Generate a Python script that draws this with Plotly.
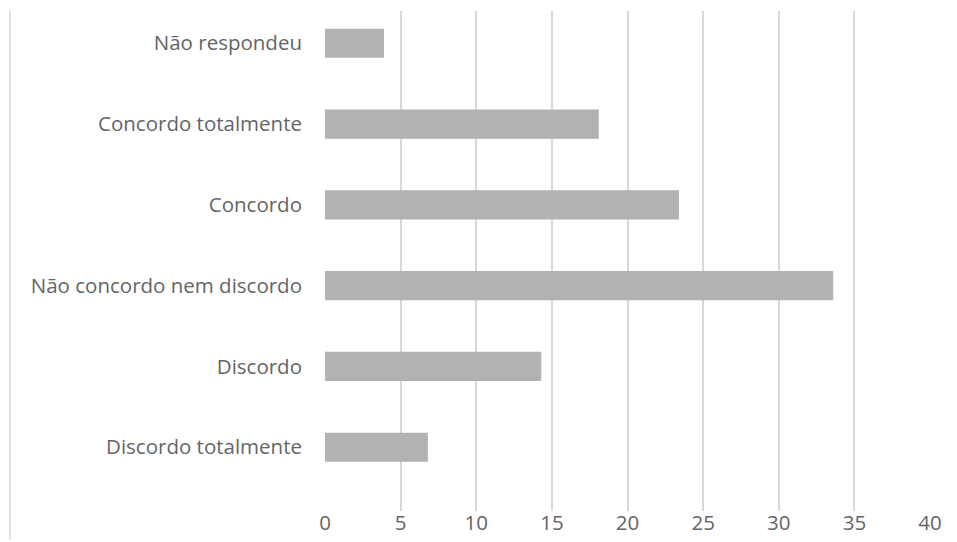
import plotly.graph_objects as go

categories = [
    "Discordo totalmente",
    "Discordo",
    "Não concordo nem discordo",
    "Concordo",
    "Concordo totalmente",
    "Não respondeu",
]
values = [6.8, 14.3, 33.6, 23.4, 18.1, 3.9]
x_ticks = [0, 5, 10, 15, 20, 25, 30, 35, 40]

label_font = dict(family="Open Sans, Calibri, sans-serif", size=20.5, color="#656565")

fig = go.Figure(
    go.Bar(
        x=values,
        y=categories,
        orientation="h",
        width=0.36,
        marker=dict(color="#b1b2b4", line=dict(width=0)),
        hoverinfo="x+y",
    )
)

fig.update_layout(
    width=957,
    height=542,
    margin=dict(l=324.5, r=26.5, t=11, b=31),
    paper_bgcolor="white",
    plot_bgcolor="white",
    showlegend=False,
    xaxis=dict(
        range=[0, 40],
        tickvals=x_ticks,
        ticktext=[str(v) for v in x_ticks],
        showgrid=True,
        gridcolor="#d9d9d9",
        gridwidth=1.5,
        zeroline=False,
        showline=False,
        ticks="",
        tickfont=label_font,
        ticklabelstandoff=-3,
        automargin=False,
    ),
    yaxis=dict(
        type="category",
        categoryorder="array",
        categoryarray=categories,
        range=[-0.79, 5.40],
        showgrid=False,
        zeroline=False,
        showline=False,
        ticks="",
        tickfont=label_font,
        ticklabelstandoff=22,
        automargin=False,
    ),
)

# thin border line at the left edge of the chart area
fig.add_shape(
    type="line",
    xref="paper",
    yref="paper",
    x0=-0.5206,
    x1=-0.5206,
    y0=1.002,
    y1=-0.058,
    line=dict(color="#d9d9d9", width=1.5),
)

fig.write_html("out.html")
